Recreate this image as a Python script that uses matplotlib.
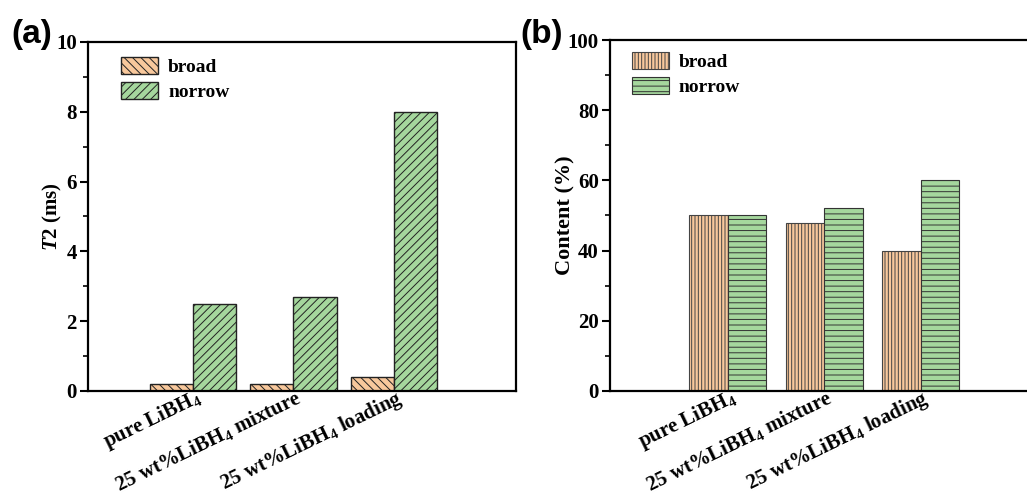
import numpy as np
import matplotlib
matplotlib.use("Agg")
import matplotlib.pyplot as plt
from matplotlib.ticker import MultipleLocator
from matplotlib.transforms import ScaledTranslation

plt.rcParams['font.family'] = 'Liberation Serif'
plt.rcParams['font.weight'] = 'bold'
plt.rcParams['axes.labelweight'] = 'bold'
plt.rcParams['mathtext.fontset'] = 'custom'
plt.rcParams['mathtext.rm'] = 'Liberation Serif:bold'
plt.rcParams['mathtext.it'] = 'Liberation Serif:italic:bold'
plt.rcParams['mathtext.bf'] = 'Liberation Serif:bold'
plt.rcParams['hatch.linewidth'] = 0.7

samples = ['pure LiBH$_\\mathregular{4}$',
           '25 wt%LiBH$_\\mathregular{4}$ mixture',
           '25 wt%LiBH$_\\mathregular{4}$ loading']
series = ['broad', 'norrow']

# T2 relaxation times (ms)
t2_broad = [0.2, 0.2, 0.4]
t2_norrow = [2.5, 2.7, 8.0]

# relative content (%)
content_broad = [50, 48, 40]
content_norrow = [50, 52, 60]

c_broad = '#F8C89C'
c_norrow = '#A5D79D'

fig = plt.figure(figsize=(10.27, 4.97), dpi=100)
ax1 = fig.add_axes([0.0857, 0.2133, 0.4167, 0.7022])
ax2 = fig.add_axes([0.594, 0.2133, 0.430, 0.7062])

x = np.arange(1, len(samples) + 1)


def style_axis(ax, ymax, major, minor):
    ax.set_ylim(0, ymax)
    ax.yaxis.set_major_locator(MultipleLocator(major))
    ax.yaxis.set_minor_locator(MultipleLocator(minor))
    ax.tick_params(axis='y', which='major', direction='out', length=6, width=1.5,
                   labelsize=15, pad=2)
    ax.tick_params(axis='y', which='minor', direction='out', length=3.5, width=1.2)
    ax.tick_params(axis='x', which='both', length=0, pad=1)
    for sp in ax.spines.values():
        sp.set_linewidth(1.6)
    ax.set_xticks(x)
    ax.set_xticklabels(samples, rotation=26, ha='right', va='top',
                       rotation_mode='anchor', fontsize=15)
    # shift labels so their ends sit a little right of the category centre
    offs = ScaledTranslation(0.02, 0.06, fig.dpi_scale_trans)
    for lab in ax.get_xticklabels():
        lab.set_transform(lab.get_transform() + offs)


leg_kw = dict(loc='upper left', frameon=False, fontsize=14, handlelength=1.9,
              handleheight=1.0, labelspacing=0.3, handletextpad=0.5)

# (a) T2 values
w = 0.43
ax1.bar(x - w / 2, t2_broad, w, color=c_broad, edgecolor='#222222', linewidth=1,
        hatch='\\\\\\\\', label=series[0])
ax1.bar(x + w / 2, t2_norrow, w, color=c_norrow, edgecolor='#222222', linewidth=1,
        hatch='////', label=series[1])
ax1.set_xlim(-0.045, 4.215)
style_axis(ax1, 10, 2, 1)
ax1.set_ylabel('$\\mathit{T2}$ (ms)', fontsize=15)
ax1.yaxis.set_label_coords(-0.056, 0.5)
ax1.legend(bbox_to_anchor=(0.037, 1.008), **leg_kw)

# (b) content
w2 = 0.4
ax2.bar(x - w2 / 2, content_broad, w2, color=c_broad, edgecolor='#444444', linewidth=0.8,
        hatch='|||||', label=series[0])
ax2.bar(x + w2 / 2, content_norrow, w2, color=c_norrow, edgecolor='#333333', linewidth=0.8,
        hatch='---', label=series[1])
ax2.set_xlim(-0.22, 4.36)
style_axis(ax2, 100, 20, 10)
ax2.set_ylabel('Content (%)', fontsize=16)
ax2.yaxis.set_label_coords(-0.078, 0.5)
ax2.legend(bbox_to_anchor=(0.01, 1.016), **leg_kw)

fig.text(0.011, 0.962, '(a)', family='Liberation Sans', fontsize=24, weight='bold', va='top')
fig.text(0.507, 0.962, '(b)', family='Liberation Sans', fontsize=24, weight='bold', va='top')

fig.savefig('out.png', dpi=100)
